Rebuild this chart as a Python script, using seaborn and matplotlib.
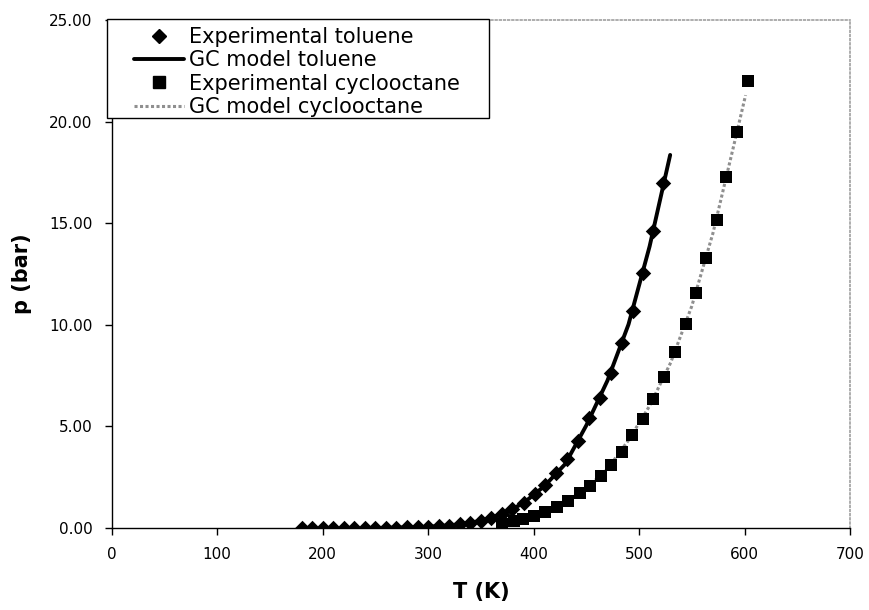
import numpy as np
import pandas as pd
import matplotlib
matplotlib.use("Agg")
import matplotlib.pyplot as plt
from matplotlib.lines import Line2D
from matplotlib.patches import Rectangle
from matplotlib.ticker import FormatStrFormatter
import seaborn as sns

# Vapour pressure of toluene: measured points
tol_T = [180, 190, 200, 210, 220, 230, 240, 250, 260, 270, 280, 290, 300, 310,
         320, 330, 340, 350, 360, 370, 380, 391, 401, 411, 421, 432, 442, 453,
         463, 473, 483.5, 494.5, 504, 513.5, 523]
tol_p = [0.00, 0.00, 0.00, 0.00, 0.00, 0.00, 0.00, 0.01, 0.01, 0.02, 0.03, 0.04,
         0.06, 0.09, 0.12, 0.18, 0.25, 0.35, 0.50, 0.68, 0.93, 1.25, 1.65, 2.12,
         2.70, 3.40, 4.30, 5.40, 6.38, 7.64, 9.09, 10.69, 12.53, 14.63, 16.96]

# Group-contribution model curve for toluene
tol_model_T = [250, 270, 290, 310, 330, 350, 370, 390, 410, 430, 450, 470,
               490, 510, 529.5]
tol_model_p = [0.00, 0.02, 0.04, 0.09, 0.18, 0.35, 0.68, 1.21, 2.05, 3.15,
               5.05, 7.25, 10.02, 13.86, 18.36]

# Vapour pressure of cyclooctane: measured points
cyc_T = [370, 381, 390, 400, 411, 422, 433, 444, 453.5, 463.5, 473.5, 483.5,
         493, 503.5, 513.5, 524, 534.5, 544.5, 554, 563.5, 573.5, 582.5, 593, 603]
cyc_p = [0.20, 0.33, 0.45, 0.60, 0.80, 1.02, 1.35, 1.71, 2.07, 2.56, 3.10, 3.75,
         4.58, 5.38, 6.35, 7.45, 8.65, 10.02, 11.58, 13.27, 15.16, 17.29, 19.50,
         22.00]

# Group-contribution model curve for cyclooctane
cyc_model_T = [370, 390, 410, 430, 450, 470, 490, 510, 530, 550, 570, 590, 601]
cyc_model_p = [0.20, 0.45, 0.78, 1.27, 1.95, 2.91, 4.32, 6.01, 8.14, 10.92,
               14.50, 18.87, 21.30]

x_ticks = [0, 100, 200, 300, 400, 500, 600, 700]
y_ticks = [0, 5, 10, 15, 20, 25]

sns.set_style("white")
plt.rcParams.update({
    "font.family": ["DejaVu Sans"],
    "text.color": "black",
    "axes.labelcolor": "black",
    "xtick.color": "black",
    "ytick.color": "black",
})

W, H = 869, 610
fig = plt.figure(figsize=(W / 100, H / 100), dpi=100)
ax = fig.add_axes([111.7 / W, 1 - 528 / H, (850 - 111.7) / W, (528 - 20) / H])

tol = pd.DataFrame({"T": tol_T, "p": tol_p})
tol_m = pd.DataFrame({"T": tol_model_T, "p": tol_model_p})
cyc = pd.DataFrame({"T": cyc_T, "p": cyc_p})
cyc_m = pd.DataFrame({"T": cyc_model_T, "p": cyc_model_p})

line_grey = "#8f8f8f"
dot_style = (0, (1.0, 0.8))

sns.lineplot(data=cyc_m, x="T", y="p", ax=ax, color=line_grey, lw=2.2,
             linestyle=dot_style, sort=False, zorder=2)
sns.scatterplot(data=cyc, x="T", y="p", ax=ax, marker="s", s=72,
                color="black", edgecolor="black", linewidth=0, zorder=3)
sns.lineplot(data=tol_m, x="T", y="p", ax=ax, color="black", lw=2.8,
             sort=False, zorder=4)
sns.scatterplot(data=tol, x="T", y="p", ax=ax, marker="D", s=62,
                color="black", edgecolor="black", linewidth=0, zorder=5)

ax.set_xlim(0, 700)
ax.set_ylim(0, 25)
ax.set_xticks(x_ticks)
ax.set_yticks(y_ticks)
ax.yaxis.set_major_formatter(FormatStrFormatter("%.2f"))
ax.tick_params(axis="both", which="major", direction="out", length=5, width=1,
               color="black", labelcolor="black", labelsize=11, pad=9,
               bottom=True, left=True, top=False, right=False)

for side in ("left", "bottom"):
    ax.spines[side].set_color("black")
    ax.spines[side].set_linewidth(1)
for side in ("top", "right"):
    ax.spines[side].set_color("#a0a0a0")
    ax.spines[side].set_linewidth(1.2)
    ax.spines[side].set_linestyle((0, (1, 1.5)))

ax.set_xlabel("T (K)", fontsize=15, fontweight="bold", labelpad=14)
ax.set_ylabel("p (bar)", fontsize=15, fontweight="bold", labelpad=12)

handles = [
    Line2D([], [], color="black", marker="D", markersize=7.5, linestyle="none"),
    Line2D([], [], color="black", lw=2.8),
    Line2D([], [], color="black", marker="s", markersize=8, linestyle="none"),
    Line2D([], [], color=line_grey, lw=2.2, linestyle=dot_style),
]
labels = ["Experimental toluene", "GC model toluene",
          "Experimental cyclooctane", "GC model cyclooctane"]
leg = fig.legend(handles, labels, loc="upper left",
                 bbox_to_anchor=(134 / W, 1 - 27 / H),
                 frameon=False, fontsize=15, handlelength=2.4,
                 handletextpad=0.25, labelspacing=0.16, borderpad=0,
                 borderaxespad=0)
for t in leg.get_texts():
    t.set_color("black")

fig.patches.append(Rectangle((107 / W, 1 - 118 / H), (489 - 107) / W,
                             (118 - 19) / H, transform=fig.transFigure,
                             fill=True, facecolor="white", edgecolor="black",
                             lw=1, zorder=0.5))

fig.savefig("out.png", dpi=100)
